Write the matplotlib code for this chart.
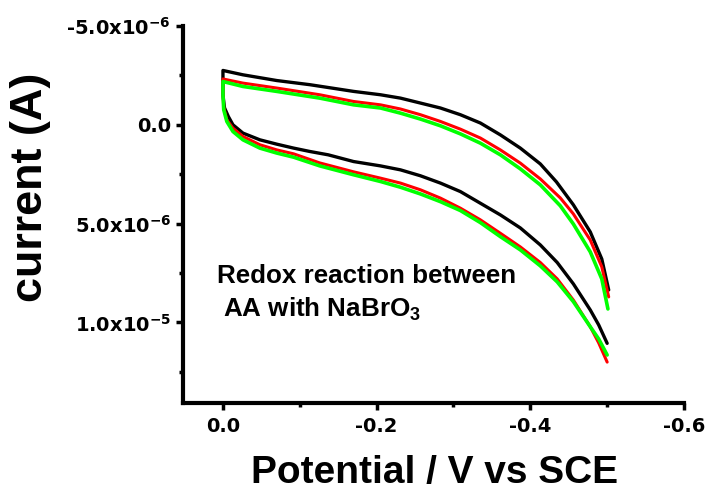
import matplotlib
matplotlib.use("Agg")
import matplotlib.pyplot as plt
from matplotlib import font_manager
from matplotlib.font_manager import FontProperties

# cyclic voltammograms, potential in V, current in uA (cathodic positive)
# each list: forward branch from -0.5 V back to 0 V, then the return branch out to -0.5 V
black_v = [-0.500, -0.489, -0.478, -0.456, -0.435, -0.413, -0.387, -0.361, -0.335, -0.309,
           -0.283, -0.257, -0.231, -0.205, -0.170, -0.137, -0.113, -0.092, -0.070, -0.048,
           -0.026, -0.013, -0.007, -0.002, 0.000, 0.000, 0.000,
           -0.026, -0.070, -0.113, -0.170, -0.205, -0.231, -0.257, -0.283, -0.309, -0.335,
           -0.361, -0.387, -0.413, -0.434, -0.456, -0.478, -0.493, -0.502]
black_i = [11.06, 10.13, 9.37, 8.05, 6.97, 6.08, 5.22, 4.56, 3.97, 3.38,
           2.95, 2.58, 2.28, 2.08, 1.86, 1.52, 1.35, 1.18, 0.98, 0.76,
           0.42, 0.00, -0.42, -0.86, -1.52, -2.28, -2.75,
           -2.53, -2.24, -2.03, -1.69, -1.52, -1.35, -1.10, -0.85, -0.51, -0.09,
           0.51, 1.18, 1.98, 2.89, 4.05, 5.42, 6.79, 8.36]

red_v = [-0.500, -0.489, -0.478, -0.456, -0.435, -0.413, -0.387, -0.361, -0.335, -0.309,
         -0.283, -0.257, -0.231, -0.205, -0.170, -0.126, -0.092, -0.070, -0.048, -0.026,
         -0.013, -0.005, -0.001, 0.000, 0.000,
         -0.026, -0.070, -0.126, -0.170, -0.205, -0.231, -0.257, -0.283, -0.309, -0.335,
         -0.361, -0.387, -0.413, -0.439, -0.456, -0.478, -0.493, -0.502]
red_i = [12.01, 11.04, 10.22, 8.87, 7.80, 6.97, 6.18, 5.49, 4.81, 4.22,
         3.71, 3.29, 2.95, 2.70, 2.38, 1.93, 1.47, 1.27, 1.01, 0.59,
         0.17, -0.25, -0.86, -1.67, -2.32,
         -2.11, -1.86, -1.52, -1.18, -1.01, -0.80, -0.51, -0.17, 0.22, 0.67,
         1.27, 1.94, 2.74, 3.70, 4.51, 5.83, 7.19, 8.71]

green_v = [-0.500, -0.489, -0.478, -0.456, -0.435, -0.413, -0.387, -0.361, -0.335, -0.309,
           -0.283, -0.257, -0.231, -0.205, -0.170, -0.126, -0.092, -0.070, -0.048, -0.026,
           -0.013, -0.005, -0.001, 0.000, 0.000,
           -0.026, -0.070, -0.126, -0.170, -0.205, -0.231, -0.257, -0.283, -0.309, -0.335,
           -0.361, -0.387, -0.413, -0.439, -0.456, -0.478, -0.493, -0.501]
green_i = [11.65, 10.84, 10.22, 8.95, 7.95, 7.14, 6.33, 5.66, 4.95, 4.34,
           3.89, 3.50, 3.16, 2.87, 2.53, 2.08, 1.64, 1.43, 1.18, 0.76,
           0.34, -0.17, -0.76, -1.52, -2.19,
           -1.94, -1.69, -1.35, -1.01, -0.85, -0.59, -0.29, 0.05, 0.46, 0.93,
           1.52, 2.23, 3.04, 4.10, 5.02, 6.43, 7.80, 9.32]

x_ticks = [0.0, -0.2, -0.4, -0.6]
x_ticklabels = ["0.0", "-0.2", "-0.4", "-0.6"]
x_minor = [-0.1, -0.3, -0.5]
y_ticks = [-5.0e-6, 0.0, 5.0e-6, 1.0e-5]
y_ticklabels = ["-5.0x10$^{-6}$", "0.0", "5.0x10$^{-6}$", "1.0x10$^{-5}$"]
y_minor = [-2.5e-6, 2.5e-6, 7.5e-6, 1.25e-5]

plt.rcParams["mathtext.default"] = "regular"

# narrow face for the x label if there is one
try:
    font_manager.findfont(FontProperties(family="Liberation Sans Narrow", weight="bold"),
                          fallback_to_default=False)
    xlab_family, xlab_size = "Liberation Sans Narrow", 34
except ValueError:
    xlab_family, xlab_size = "Liberation Sans", 28

fig = plt.figure(figsize=(7.08, 4.90), dpi=100)
ax = fig.add_axes([183 / 708, 1 - 403 / 490, 501 / 708, 377 / 490])

for v, i, col, lw in [(black_v, black_i, "black", 2.4),
                      (red_v, red_i, "#ff0000", 2.2),
                      (green_v, green_i, "#00ff00", 2.6)]:
    ax.plot(v, [c * 1e-6 for c in i], color=col, lw=lw,
            solid_joinstyle="round", solid_capstyle="round")

ax.set_xlim(0.052, -0.6)
ax.set_ylim(1.408e-5, -5.0e-6)

ax.set_xticks(x_ticks)
ax.set_xticklabels(x_ticklabels)
ax.set_xticks(x_minor, minor=True)
ax.set_yticks(y_ticks)
ax.set_yticklabels(y_ticklabels)
ax.set_yticks(y_minor, minor=True)

for s in ["top", "right"]:
    ax.spines[s].set_visible(False)
for s in ["left", "bottom"]:
    ax.spines[s].set_linewidth(3)

ax.tick_params(which="major", direction="out", length=5, width=2.5)
ax.tick_params(which="minor", direction="out", length=3, width=2.5)
ax.tick_params(axis="x", which="major", pad=5)
ax.tick_params(axis="y", which="major", pad=3.5)
for lab in ax.get_xticklabels() + ax.get_yticklabels():
    lab.set_fontfamily("DejaVu Sans")
    lab.set_fontweight("bold")
    lab.set_fontsize(14)

ax.set_xlabel("Potential / V vs SCE", family=xlab_family, weight="bold", fontsize=xlab_size)
ax.xaxis.set_label_coords(0.5014, -0.212)
ax.xaxis.label.set_va("baseline")

ax.set_ylabel("current (A)", family="Liberation Sans", weight="bold", fontsize=32.4)
ax.yaxis.set_label_coords(-0.3034, 0.5716)
ax.yaxis.label.set_va("center")

fig.text(217 / 708, 1 - 283.3 / 490, "Redox reaction between",
         family="Liberation Sans", weight="bold", fontsize=18.7, va="baseline")
fig.text(222.7 / 708, 1 - 316.7 / 490, "AA with NaBrO$_3$",
         family="Liberation Sans", weight="bold", fontsize=18.7, va="baseline")

fig.savefig("out.png", dpi=100)
